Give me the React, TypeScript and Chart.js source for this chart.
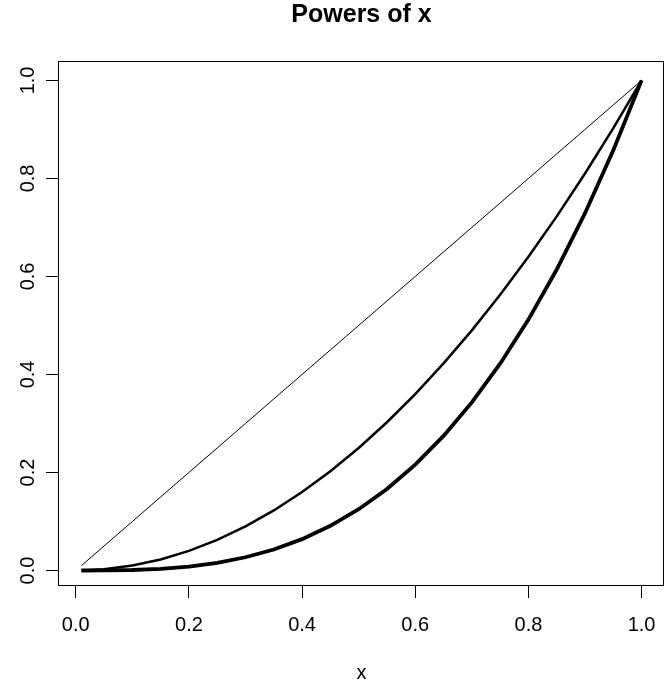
import React, { useEffect, useRef } from "react";
import { Chart, registerables } from "chart.js";

Chart.register(...registerables);

const TITLE = "Powers of x";
const X_LABEL = "x";
const xValues = [0.01, 0.05, 0.10, 0.15, 0.20, 0.25, 0.30, 0.35, 0.40, 0.45, 0.50, 0.55, 0.60, 0.65, 0.70, 0.75, 0.80, 0.85, 0.90, 0.95, 1.00];
const yLinear = [0.01, 0.05, 0.10, 0.15, 0.20, 0.25, 0.30, 0.35, 0.40, 0.45, 0.50, 0.55, 0.60, 0.65, 0.70, 0.75, 0.80, 0.85, 0.90, 0.95, 1.00];
const ySquare = [0.0001, 0.0025, 0.01, 0.0225, 0.04, 0.0625, 0.09, 0.1225, 0.16, 0.2025, 0.25, 0.3025, 0.36, 0.4225, 0.49, 0.5625, 0.64, 0.7225, 0.81, 0.9025, 1.0];
const yCube = [0.000001, 0.000125, 0.001, 0.003375, 0.008, 0.015625, 0.027, 0.042875, 0.064, 0.091125, 0.125, 0.166375, 0.216, 0.274625, 0.343, 0.421875, 0.512, 0.614125, 0.729, 0.857375, 1.0];
const tickValues = [0, 0.2, 0.4, 0.6, 0.8, 1.0];

const AXIS_MIN = -0.0296;
const AXIS_MAX = 1.0396;

const FONT = "'Liberation Sans', Arial, Helvetica, sans-serif";

const boxPlugin = {
  id: "rbox",
  afterDraw(chart: any) {
    const { ctx, chartArea } = chart;
    ctx.save();
    ctx.strokeStyle = "#000";
    ctx.lineWidth = 1;
    ctx.strokeRect(
      Math.round(chartArea.left) - 0.5,
      Math.round(chartArea.top) + 0.5,
      Math.round(chartArea.right - chartArea.left),
      Math.round(chartArea.bottom - chartArea.top)
    );
    ctx.restore();
  },
};

function series(ys: number[]) {
  return xValues.map((x, i) => ({ x, y: ys[i] }));
}

export default function App() {
  const ref = useRef<HTMLCanvasElement>(null);
  useEffect(() => {
    if (!ref.current) return;
    const chart = new Chart(ref.current, {
      type: "line",
      data: {
        datasets: [
          { data: series(yLinear), borderColor: "#000", borderWidth: 1, pointRadius: 0, tension: 0, fill: false },
          { data: series(ySquare), borderColor: "#000", borderWidth: 2.5, pointRadius: 0, tension: 0, fill: false },
          { data: series(yCube), borderColor: "#000", borderWidth: 3.8, pointRadius: 0, tension: 0, fill: false },
        ],
      },
      options: {
        responsive: false,
        animation: false,
        events: [],
        layout: { padding: { left: 0, right: 7, top: 0, bottom: 0 } },
        plugins: {
          legend: { display: false },
          tooltip: { enabled: false },
          title: {
            display: true,
            fullSize: false,
            text: TITLE,
            color: "#000",
            font: { family: FONT, size: 25, weight: "bold", lineHeight: 1.2 },
            padding: { top: 0, bottom: 31 },
          },
        },
        scales: {
          x: {
            type: "linear",
            min: AXIS_MIN,
            max: AXIS_MAX,
            afterFit(scale: any) { scale.height = 98; },
            afterBuildTicks(scale: any) { scale.ticks = tickValues.map((v) => ({ value: v })); },
            ticks: {
              includeBounds: false,
              color: "#000",
              font: { family: FONT, size: 20 },
              padding: 15,
              maxRotation: 0,
              minRotation: 0,
              callback: (v: any) => Number(v).toFixed(1),
            },
            grid: { drawOnChartArea: false, drawTicks: true, tickLength: 13, color: "#000", tickColor: "#000" },
            border: { display: false },
            title: {
              display: true,
              text: X_LABEL,
              color: "#000",
              font: { family: FONT, size: 20, lineHeight: 1.0 },
              padding: { top: 0, bottom: 0 },
            },
          },
          y: {
            type: "linear",
            min: AXIS_MIN,
            max: AXIS_MAX,
            afterFit(scale: any) { scale.width = 59; },
            afterBuildTicks(scale: any) { scale.ticks = tickValues.map((v) => ({ value: v })); },
            ticks: {
              includeBounds: false,
              color: "#000",
              font: { family: FONT, size: 20 },
              padding: 4,
              minRotation: 90,
              maxRotation: 90,
              crossAlign: "center",
              callback: (v: any) => Number(v).toFixed(1),
            },
            grid: { drawOnChartArea: false, drawTicks: true, tickLength: 13, color: "#000", tickColor: "#000" },
            border: { display: false },
          },
        },
      },
      plugins: [boxPlugin],
    } as any);
    return () => chart.destroy();
  }, []);
  return (
    <div style={{ position: "absolute", left: 0, top: 0, width: 671, height: 683, background: "#fff" }}>
      <canvas ref={ref} width={671} height={683} style={{ display: "block" }} />
    </div>
  );
}
